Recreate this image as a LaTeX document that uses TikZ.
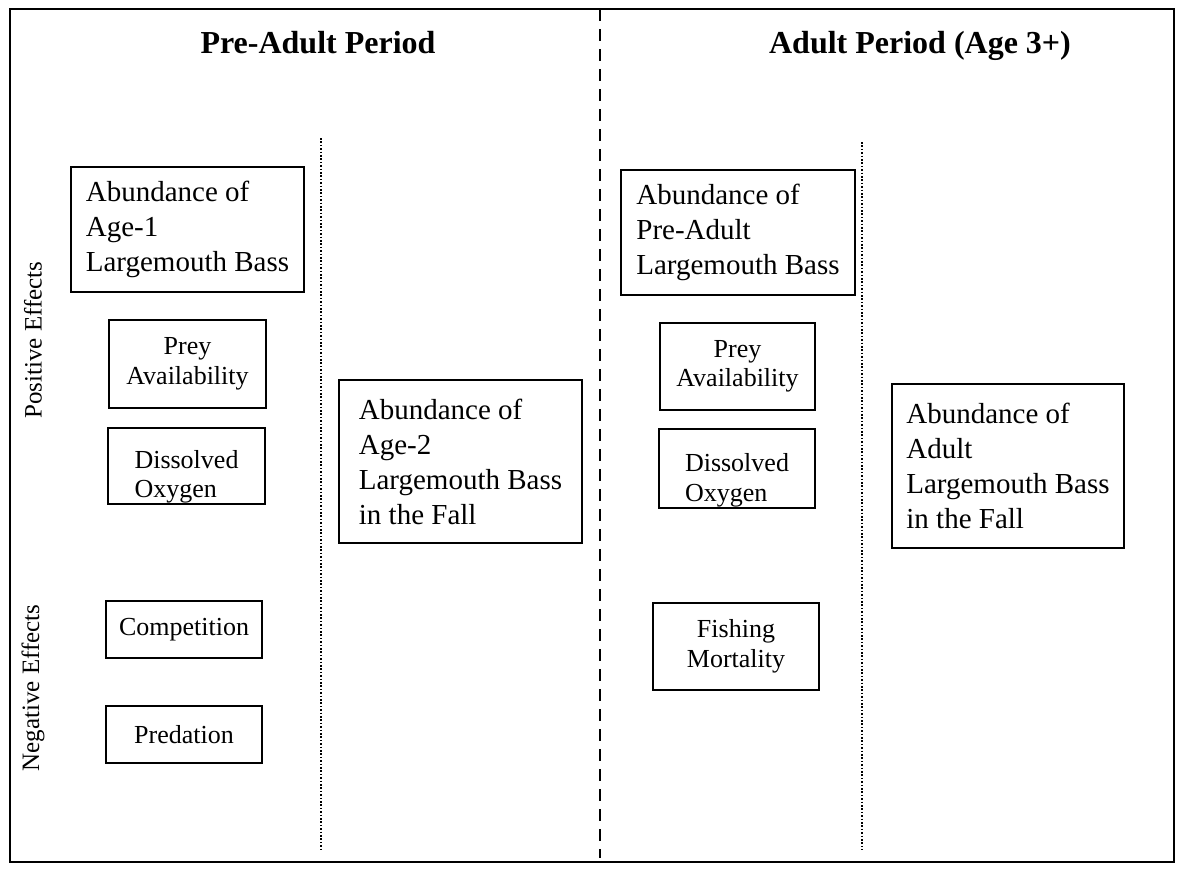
\documentclass[tikz,border=0pt]{standalone}
\usepackage{fontspec}
\setmainfont{Liberation Serif}
\usepackage{tikz}

\begin{document}
\begin{tikzpicture}[x=1pt, y=-1pt,
  every node/.style={inner sep=2pt},
  bigbox/.style={draw, line width=1.6pt, align=left, font=\fontsize{29}{35}\selectfont},
  smallbox/.style={draw, line width=1.6pt, align=center, font=\fontsize{26}{29.5}\selectfont},
  sidelabel/.style={rotate=90, font=\fontsize{25}{30}\selectfont},
  periodtitle/.style={anchor=base, font=\fontsize{32}{38}\selectfont\bfseries}]
  \useasboundingbox (0,0) rectangle (1180,870);
  \draw [line width=2.4pt] (10,9) rectangle (1174,862);
  \draw [line width=1.6pt, dash pattern=on 12pt off 8pt] (600,9) -- (600,858);
  \draw [line width=1.8pt, dash pattern=on 1.6pt off 1.8pt] (321,138) -- (321,850);
  \draw [line width=1.8pt, dash pattern=on 1.6pt off 1.8pt] (862,142) -- (862,850);
  \node (pretitle) [periodtitle] at (318,53) {Pre-Adult Period};
  \node (adtitle) [periodtitle] at (920,53) {Adult Period (Age 3+)};
  \node (pos) [sidelabel] at (33,340) {Positive Effects};
  \node (neg) [sidelabel] at (33,688) {Negative Effects};
  \node (age1) [bigbox, minimum width=233pt, minimum height=125pt] at (187.5,229.5) {Abundance of\\Age-1\\Largemouth Bass};
  \node (prey1) [smallbox, minimum width=157pt, minimum height=88pt] at (187.5,364) {Prey\\Availability};
  \node (dox1) [smallbox, align=left, inner ysep=0pt, minimum width=157pt, minimum height=76pt] at (186.5,466) {\rule{0pt}{40pt}Dissolved\\Oxygen};
  \node (comp) [smallbox, minimum width=156pt, minimum height=57pt] at (184,629.5) {Competition};
  \node (pred) [smallbox, minimum width=156pt, minimum height=57pt] at (184,734.5) {Predation};
  \node (age2) [bigbox, minimum width=243pt, minimum height=163pt] at (460.5,461.5) {Abundance of\\Age-2\\Largemouth Bass\\in the Fall};
  \node (preadult) [bigbox, minimum width=234pt, minimum height=125pt] at (738,232.5) {Abundance of\\Pre-Adult\\Largemouth Bass};
  \node (prey2) [smallbox, minimum width=155pt, minimum height=87pt] at (737.5,366.5) {Prey\\Availability};
  \node (dox2) [smallbox, align=left, inner ysep=0pt, minimum width=156pt, minimum height=79pt] at (737,468.5) {\rule{0pt}{42pt}Dissolved\\Oxygen};
  \node (fish) [smallbox, minimum width=166pt, minimum height=87pt] at (736,646.5) {Fishing\\Mortality};
  \node (adult) [bigbox, minimum width=232pt, minimum height=164pt] at (1008,466) {Abundance of\\Adult\\Largemouth Bass\\in the Fall};
\end{tikzpicture}
\end{document}
